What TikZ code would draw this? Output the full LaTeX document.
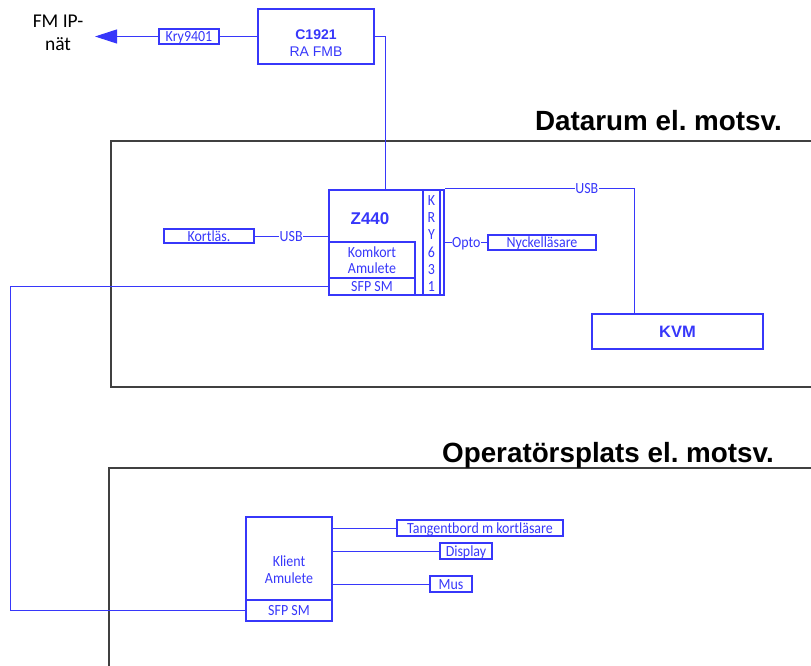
\documentclass[tikz,border=0pt]{standalone}
\usepackage{fontspec}
\setmainfont{Carlito}
\newfontfamily\headfont{Liberation Sans}
\newfontfamily\boxfont{Carlito}[FakeStretch=0.9]
\usetikzlibrary{arrows.meta}
\definecolor{linkblue}{RGB}{55,55,250}
\definecolor{roomgray}{RGB}{64,64,64}
\frenchspacing

\tikzset{
  unitbox/.style={draw=linkblue, line width=1.3pt, text=linkblue, inner sep=0pt},
  mainbox/.style={unitbox, line width=2.4pt},
  devbox/.style={draw=linkblue, line width=1.1pt, text=linkblue, inner sep=0pt,
    text height=12pt, text depth=2pt, font=\boxfont\fontsize{15.5}{17}\selectfont},
  lbl/.style={fill=white, text=linkblue, inner xsep=0.5pt, inner ysep=0pt,
    text height=12pt, text depth=2pt, font=\boxfont\fontsize{15.5}{17}\selectfont},
  link/.style={draw=linkblue, line width=1pt},
  room/.style={draw=roomgray, line width=2.6pt},
  roomtitle/.style={font=\headfont\bfseries\fontsize{27.8}{30}\selectfont, inner sep=0pt}
}

\begin{document}
\begin{tikzpicture}[x=1pt, y=-1pt]
        \useasboundingbox (0,0) rectangle (811,666);
        % Rooms
        \draw[room] (812,141) -- (111,141) -- (111,387) -- (812,387);
        \draw[room] (812,468) -- (109,468) -- (109,667);
        \node[roomtitle, anchor=base east] (datarum) at (782,131) {Datarum el. motsv.};
        \node[roomtitle, anchor=base east] (opplats) at (774,462) {Operatörsplats el. motsv.};
        % FM network and C1921
        \node[align=center, font=\fontsize{19.5}{23}\selectfont] (fmnet) at (58,33) {FM IP-\\nät};
        \coordinate (fmtip) at (95,36.5);
        \node[devbox, minimum width=60, minimum height=15] (kry9401) at (189,36.5) {Kry9401};
        \node[unitbox, minimum width=116, minimum height=55] (c1921) at (316,36.5) {};
        \node[text=linkblue, align=center, font=\headfont\fontsize{14}{17.5}\selectfont] (c1921txt) at (316,43) {\textbf{C1921}\\RA FMB};
        \draw[link] (c1921) -- (kry9401);
        \draw[link, -{Triangle[length=22pt, width=14pt]}] (kry9401) -- (fmtip);
        % Z440 workstation
        \node[mainbox, minimum width=115, minimum height=105] (z440) at (386.5,242.5) {};
        \node[font=\headfont\bfseries\fontsize{17}{20}\selectfont, text=linkblue] (z440txt) at (370,219) {Z440};
        \node[unitbox, line width=1.1pt, minimum width=17, minimum height=105] (kry631) at (431.5,242.5) {};
        \node[text=linkblue, align=center, inner sep=0pt,
          font=\boxfont\fontsize{15.5}{17.2}\selectfont] (kry631txt) at (431.5,243.5) {K\\R\\Y\\6\\3\\1};
        \node[unitbox, line width=1.1pt, minimum width=86, minimum height=36, align=center,
          font=\boxfont\fontsize{15.5}{16.5}\selectfont] (komkort) at (372,260) {Komkort\\Amulete};
        \node[devbox, minimum width=86, minimum height=17] (sfp) at (372,286.5) {SFP SM};
        \node[devbox, minimum width=90, minimum height=14] (kortlas) at (209,236) {Kortläs.};
        \node[devbox, minimum width=108, minimum height=15] (nyckel) at (542,242.5) {Nyckelläsare};
        \node[unitbox, minimum width=171, minimum height=35,
          font=\headfont\bfseries\fontsize{16.5}{19}\selectfont] (kvm) at (677.5,331.5) {KVM};
        \draw[link] (c1921.east) -| (385,0 |- z440.north);
        \draw[link] (kortlas) -- node[lbl] {USB} (z440.west |- kortlas);
        \draw[link] (z440.east) -- node[lbl] {Opto} (nyckel);
        \draw[link] (z440.north east) -| node[lbl, pos=0.375] {USB} (634,0 |- kvm.north);
        % Operator client
        \node[mainbox, minimum width=86, minimum height=104] (klient) at (289,569) {};
        \node[text=linkblue, align=center, font=\boxfont\fontsize{15.5}{17}\selectfont] (klienttxt) at (289,570) {Klient\\Amulete};
        \node[devbox, minimum width=86, minimum height=21] (klsfp) at (289,610.5) {SFP SM};
        \node[devbox, minimum width=166, minimum height=16] (tangent) at (480,528) {Tangentbord m kortläsare};
        \node[devbox, minimum width=52, minimum height=16] (display) at (466,551) {Display};
        \node[devbox, minimum width=42, minimum height=16] (mus) at (451,584) {Mus};
        \draw[link] (klient.east |- tangent) -- (tangent);
        \draw[link] (klient.east |- display) -- (display);
        \draw[link] (klient.east |- mus) -- (mus);
        % Fibre between the rooms
        \draw[link] (sfp.west) -- (sfp.west -| 10,0) |- (klsfp.west);
    \end{tikzpicture}
\end{document}
